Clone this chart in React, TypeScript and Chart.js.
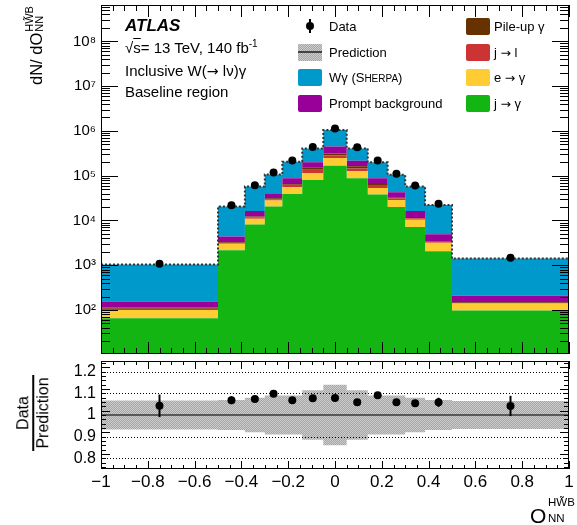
import React, { useEffect, useRef } from "react";
import { Chart, registerables } from "chart.js";

Chart.register(...registerables);

// ---------------- data ----------------
const binEdges = [-1, -0.5, -0.385, -0.3, -0.225, -0.14, -0.05, 0.05, 0.14, 0.225, 0.3, 0.385, 0.5, 1];
// stacked components (events per bin), bottom to top
const jToGamma = [65, 2150, 8150, 20500, 39200, 80200, 167000, 87500, 37800, 19900, 7130, 2050, 97];
const eToGamma = [35, 850, 2750, 7300, 16000, 34800, 80000, 37500, 15500, 8900, 3270, 1140, 42];
const jToL = [7, 170, 780, 2000, 7500, 21000, 37000, 20000, 8500, 2300, 800, 160, 5];
const pileUpGamma = [6, 130, 620, 1700, 6200, 18000, 31000, 17000, 7100, 2000, 700, 130, 4];
const promptBkg = [41, 1100, 3900, 7700, 18600, 45000, 135000, 53000, 18600, 9700, 4300, 1410, 61];
const wGamma = [880, 16100, 40800, 67800, 117500, 207000, 600000, 191000, 111500, 62200, 40800, 17400, 1200];
const dataCounts = [1078, 21900, 61200, 117500, 218900, 437300, 1133000, 430000, 217300, 111200, 60100, 23600, 1468];
const dataRelErr = [0.05, 0.017, 0.012, 0.01, 0.008, 0.006, 0.005, 0.006, 0.008, 0.01, 0.012, 0.02, 0.045];
const predRelUnc = [0.067, 0.07, 0.08, 0.09, 0.09, 0.115, 0.14, 0.115, 0.09, 0.09, 0.08, 0.07, 0.065];

const xTickValues = [-1, -0.8, -0.6, -0.4, -0.2, 0, 0.2, 0.4, 0.6, 0.8, 1];
const xTickLabels = ["\u22121", "\u22120.8", "\u22120.6", "\u22120.4", "\u22120.2", "0", "0.2", "0.4", "0.6", "0.8", "1"];
const logTickValues = [1e2, 1e3, 1e4, 1e5, 1e6, 1e7, 1e8];
const logTickLabels = ["10\u00B2", "10\u00B3", "10\u2074", "10\u2075", "10\u2076", "10\u2077", "10\u2078"];
const ratioTickValues = [0.8, 0.9, 1, 1.1, 1.2];
const ratioTickLabels = ["0.8", "0.9", "1", "1.1", "1.2"];

const layerColors = ["#13b513", "#ffcc33", "#cc3333", "#663300", "#990099", "#0099cc"];

const FONT = '"Liberation Sans", Arial, Helvetica, sans-serif';

// ---------------- helpers ----------------
const binCenters = binEdges.slice(0, -1).map((e, i) => (e + binEdges[i + 1]) / 2);
const stepData = (vals: number[]) =>
  binEdges.map((x, i) => ({ x, y: vals[Math.min(i, vals.length - 1)] }));

const layers = [jToGamma, eToGamma, jToL, pileUpGamma, promptBkg, wGamma];
const cumulative: number[][] = [];
layers.forEach((l, k) => {
  cumulative.push(l.map((v, i) => v + (k > 0 ? cumulative[k - 1][i] : 0)));
});
const prediction = cumulative[cumulative.length - 1];
const ratio = dataCounts.map((d, i) => d / prediction[i]);

type TickSpec = { v: number; len: number };

function framePlugin(id: string, xTicks: TickSpec[], yTicks: TickSpec[]) {
  return {
    id,
    afterDraw(chart: any) {
      const { ctx, chartArea: a } = chart;
      const xs = chart.scales.x;
      const ys = chart.scales.y;
      ctx.save();
      ctx.strokeStyle = "#000";
      ctx.lineWidth = 1;
      ctx.beginPath();
      for (const t of xTicks) {
        const px = Math.round(xs.getPixelForValue(t.v)) + 0.5;
        ctx.moveTo(px, a.bottom);
        ctx.lineTo(px, a.bottom - t.len);
        ctx.moveTo(px, a.top);
        ctx.lineTo(px, a.top + t.len);
      }
      for (const t of yTicks) {
        const py = Math.round(ys.getPixelForValue(t.v)) + 0.5;
        ctx.moveTo(a.left, py);
        ctx.lineTo(a.left + t.len, py);
        ctx.moveTo(a.right, py);
        ctx.lineTo(a.right - t.len, py);
      }
      ctx.stroke();
      ctx.strokeRect(a.left + 0.5, a.top + 0.5, a.right - a.left - 1, a.bottom - a.top - 1);
      ctx.restore();
    },
  };
}

function errorBarPlugin(id: string, dsIndex: number, lo: number[], hi: number[]) {
  return {
    id,
    afterDatasetsDraw(chart: any) {
      const meta = chart.getDatasetMeta(dsIndex);
      const ys = chart.scales.y;
      const ctx = chart.ctx;
      ctx.save();
      ctx.strokeStyle = "#000";
      ctx.lineWidth = 2;
      meta.data.forEach((pt: any, i: number) => {
        ctx.beginPath();
        ctx.moveTo(pt.x, ys.getPixelForValue(lo[i]));
        ctx.lineTo(pt.x, ys.getPixelForValue(hi[i]));
        ctx.stroke();
      });
      ctx.restore();
    },
  };
}

function makeXTicks(major: number, minor: number): TickSpec[] {
  const out: TickSpec[] = [];
  for (let i = 0; i <= 40; i++) {
    out.push({ v: -1 + i * 0.05, len: i % 4 === 0 ? major : minor });
  }
  return out;
}

function makeLogTicks(min: number, max: number): TickSpec[] {
  const out: TickSpec[] = [];
  for (let e = 0; e <= 9; e++) {
    for (let m = 1; m <= 9; m++) {
      const v = m * Math.pow(10, e);
      if (v >= min && v <= max) out.push({ v, len: m === 1 ? 17 : 9 });
    }
  }
  return out;
}

function makeRatioTicks(): TickSpec[] {
  const out: TickSpec[] = [];
  for (let i = 0; i <= 24; i++) {
    const v = 0.76 + i * 0.02;
    out.push({ v, len: (i + 2) % 5 === 0 ? 9 : 5 });
  }
  return out;
}

const noPad = (s: any) => {
  s.paddingTop = 0;
  s.paddingBottom = 0;
  s.paddingLeft = 0;
  s.paddingRight = 0;
};

const Arrow = () => (
  <span style={{ fontFamily: '"DejaVu Sans", sans-serif', fontSize: "0.95em" }}>→</span>
);

export default function App() {
  const mainRef = useRef<HTMLCanvasElement>(null);
  const ratioRef = useRef<HTMLCanvasElement>(null);

  useEffect(() => {
    const charts: Chart[] = [];
    const yMin = 10.4;
    const yMax = 6.5e8;

    if (mainRef.current) {
      const layerDatasets = cumulative.map((c, i) => ({
        data: stepData(c),
        stepped: "before" as const,
        borderWidth: 0,
        borderColor: "rgba(0,0,0,0)",
        pointRadius: 0,
        backgroundColor: layerColors[i],
        fill: i === 0 ? "start" : "-1",
        order: 20 + i,
      }));
      const totalDs = {
        data: stepData(prediction),
        stepped: "before" as const,
        borderWidth: 2,
        borderColor: "#333",
        borderDash: [2, 2],
        pointRadius: 0,
        fill: false,
        order: 2,
      };
      const dataDs = {
        data: binCenters.map((x, i) => ({ x, y: dataCounts[i] })),
        showLine: false,
        pointRadius: 4,
        pointBackgroundColor: "#000",
        pointBorderWidth: 0,
        order: 1,
      };
      const lo = dataCounts.map((d, i) => d * (1 - dataRelErr[i]));
      const hi = dataCounts.map((d, i) => d * (1 + dataRelErr[i]));
      charts.push(
        new Chart(mainRef.current, {
          type: "line",
          data: { datasets: [...layerDatasets, totalDs, dataDs] as any },
          options: {
            animation: false,
            responsive: false,
            maintainAspectRatio: false,
            events: [],
            layout: { padding: { top: 5, right: 8, bottom: 1, left: 0 } },
            plugins: { legend: { display: false }, tooltip: { enabled: false } },
            scales: {
              x: { type: "linear", min: -1, max: 1, display: false },
              y: {
                type: "logarithmic",
                min: yMin,
                max: yMax,
                afterFit: (s: any) => {
                  s.width = 101;
                  noPad(s);
                },
                afterBuildTicks: (s: any) => {
                  s.ticks = logTickValues.map((v) => ({ value: v }));
                },
                ticks: {
                  autoSkip: false,
                  padding: 5,
                  color: "#000",
                  font: { family: FONT, size: 15 },
                  callback: (v: any) => {
                    const i = logTickValues.indexOf(Number(v));
                    return i >= 0 ? logTickLabels[i] : "";
                  },
                },
                grid: { display: false, drawTicks: false },
                border: { display: false },
              },
            },
          } as any,
          plugins: [
            errorBarPlugin("errMain", layerDatasets.length + 1, lo, hi),
            framePlugin("frameMain", makeXTicks(12, 6), makeLogTicks(yMin, yMax)),
          ],
        })
      );
    }

    if (ratioRef.current) {
      const pc = document.createElement("canvas");
      pc.width = 2;
      pc.height = 2;
      const g = pc.getContext("2d")!;
      g.fillStyle = "#cdcdcd";
      g.fillRect(0, 0, 2, 2);
      g.fillStyle = "#a5a5a5";
      g.fillRect(0, 0, 1, 1);
      g.fillRect(1, 1, 1, 1);
      const pattern = ratioRef.current.getContext("2d")!.createPattern(pc, "repeat");

      const lo = ratio.map((r, i) => r * (1 - dataRelErr[i]));
      const hi = ratio.map((r, i) => r * (1 + dataRelErr[i]));

      const gridPlugin = {
        id: "ratioGrid",
        afterDatasetDraw(chart: any, args: any) {
          if (args.index !== 1) return;
          const { ctx, chartArea: a } = chart;
          const ys = chart.scales.y;
          ctx.save();
          ctx.strokeStyle = "#000";
          ctx.lineWidth = 1;
          ctx.setLineDash([1, 2]);
          for (const v of ratioTickValues) {
            if (v === 1) continue;
            const py = Math.round(ys.getPixelForValue(v)) + 0.5;
            ctx.beginPath();
            ctx.moveTo(a.left, py);
            ctx.lineTo(a.right, py);
            ctx.stroke();
          }
          ctx.restore();
        },
      };

      charts.push(
        new Chart(ratioRef.current, {
          type: "line",
          data: {
            datasets: [
              {
                data: stepData(predRelUnc.map((u) => 1 - u)),
                stepped: "before",
                borderWidth: 0,
                borderColor: "rgba(0,0,0,0)",
                pointRadius: 0,
                fill: false,
                order: 31,
              },
              {
                data: stepData(predRelUnc.map((u) => 1 + u)),
                stepped: "before",
                borderWidth: 0,
                borderColor: "rgba(0,0,0,0)",
                pointRadius: 0,
                backgroundColor: pattern,
                fill: "-1",
                order: 30,
              },
              {
                data: [
                  { x: -1, y: 1 },
                  { x: 1, y: 1 },
                ],
                borderWidth: 1.5,
                borderColor: "#3a3a3a",
                pointRadius: 0,
                fill: false,
                order: 2,
              },
              {
                data: binCenters.map((x, i) => ({ x, y: ratio[i] })),
                showLine: false,
                pointRadius: 4,
                pointBackgroundColor: "#000",
                pointBorderWidth: 0,
                order: 1,
              },
            ] as any,
          },
          options: {
            animation: false,
            responsive: false,
            maintainAspectRatio: false,
            events: [],
            layout: { padding: { top: 1, right: 8, bottom: 0, left: 0 } },
            plugins: { legend: { display: false }, tooltip: { enabled: false } },
            scales: {
              x: {
                type: "linear",
                min: -1,
                max: 1,
                afterFit: (s: any) => {
                  s.height = 56;
                  noPad(s);
                },
                afterBuildTicks: (s: any) => {
                  s.ticks = xTickValues.map((v) => ({ value: v }));
                },
                ticks: {
                  autoSkip: false,
                  maxRotation: 0,
                  minRotation: 0,
                  padding: 3,
                  color: "#000",
                  font: { family: FONT, size: 17 },
                  callback: (v: any, i: number) => xTickLabels[i] ?? "",
                },
                grid: { display: false, drawTicks: false },
                border: { display: false },
              },
              y: {
                type: "linear",
                min: 0.75,
                max: 1.25,
                afterFit: (s: any) => {
                  s.width = 101;
                  noPad(s);
                },
                afterBuildTicks: (s: any) => {
                  s.ticks = ratioTickValues.map((v) => ({ value: v }));
                },
                ticks: {
                  autoSkip: false,
                  padding: 5,
                  color: "#000",
                  font: { family: FONT, size: 16 },
                  callback: (v: any, i: number) => ratioTickLabels[i] ?? "",
                },
                grid: { display: false, drawTicks: false },
                border: { display: false },
              },
            },
          } as any,
          plugins: [
            gridPlugin,
            errorBarPlugin("errRatio", 3, lo, hi),
            framePlugin("frameRatio", makeXTicks(8, 4), makeRatioTicks()),
          ],
        })
      );
    }

    return () => charts.forEach((c) => c.destroy());
  }, []);

  const abs = (style: React.CSSProperties): React.CSSProperties => ({
    position: "absolute",
    whiteSpace: "nowrap",
    color: "#000",
    ...style,
  });

  const swatch = (top: number, left: number, color: string) => (
    <div
      style={abs({
        left,
        top,
        width: 24,
        height: 17,
        background: color,
        borderRadius: 2,
      })}
    />
  );

  const legendText = (top: number, left: number, content: React.ReactNode) => (
    <div style={abs({ left, top: top - 6.5, fontSize: 13, lineHeight: "13px" })}>{content}</div>
  );

  const rows = [26, 52, 77, 103];

  return (
    <div
      style={{
        position: "fixed",
        left: 0,
        top: 0,
        width: 577,
        height: 525,
        background: "#fff",
        overflow: "hidden",
        fontFamily: FONT,
      }}
    >
      <canvas ref={mainRef} width={577} height={358} style={{ position: "absolute", left: 0, top: 0 }} />
      <canvas ref={ratioRef} width={577} height={168} style={{ position: "absolute", left: 0, top: 357 }} />

      {/* ATLAS label block */}
      <div style={abs({ left: 125, top: 16.6, fontSize: 17, lineHeight: "17px", fontWeight: "bold", fontStyle: "italic" })}>
        ATLAS
      </div>
      <div style={abs({ left: 125, top: 40.3, fontSize: 15, lineHeight: "15px" })}>
        √<span style={{ textDecoration: "overline" }}>s</span>= 13 TeV, 140 fb
        <span style={{ fontSize: 10, position: "relative", top: -6 }}>-1</span>
      </div>
      <div style={abs({ left: 125, top: 63.3, fontSize: 15, lineHeight: "15px" })}>
        Inclusive W(<Arrow /> lν)γ
      </div>
      <div style={abs({ left: 125, top: 84.3, fontSize: 15, lineHeight: "15px" })}>Baseline region</div>

      {/* legend left column */}
      <div style={abs({ left: 309, top: rows[0] - 7, width: 2, height: 14, background: "#000" })} />
      <div style={abs({ left: 306, top: rows[0] - 4, width: 8, height: 8, borderRadius: 4, background: "#000" })} />
      {legendText(rows[0], 329, "Data")}
      <div
        style={abs({
          left: 298,
          top: rows[1] - 8.5,
          width: 24,
          height: 17,
          background: "repeating-conic-gradient(#a5a5a5 0% 25%, #cdcdcd 0% 50%) 0 0 / 2px 2px",
        })}
      />
      <div style={abs({ left: 298, top: rows[1] - 1, width: 24, height: 2, background: "#444" })} />
      {legendText(rows[1], 329, "Prediction")}
      {swatch(rows[2] - 8.5, 298, layerColors[5])}
      {legendText(
        rows[2],
        329,
        <span>
          Wγ (S<span style={{ fontSize: 10 }}>HERPA</span>)
        </span>
      )}
      {swatch(rows[3] - 8.5, 298, layerColors[4])}
      {legendText(rows[3], 329, "Prompt background")}

      {/* legend right column */}
      {swatch(rows[0] - 8.5, 466, layerColors[3])}
      {legendText(rows[0], 494, "Pile-up γ")}
      {swatch(rows[1] - 8.5, 466, layerColors[2])}
      {legendText(rows[1], 494, <span>j <Arrow /> l</span>)}
      {swatch(rows[2] - 8.5, 466, layerColors[1])}
      {legendText(rows[2], 494, <span>e <Arrow /> γ</span>)}
      {swatch(rows[3] - 8.5, 466, layerColors[0])}
      {legendText(rows[3], 494, <span>j <Arrow /> γ</span>)}

      {/* main y-axis title */}
      <div
        style={abs({
          left: 27.5,
          top: 85,
          transform: "rotate(-90deg)",
          transformOrigin: "0 0",
          display: "flex",
          alignItems: "flex-start",
        })}
      >
        <span style={{ fontSize: 16.5, lineHeight: "16px" }}>dN/ dO</span>
        <span style={{ position: "relative", display: "inline-block", width: 26, height: 16 }}>
          <span style={{ position: "absolute", left: 1, top: -4, fontSize: 11, lineHeight: "11px" }}>HW̃B</span>
          <span style={{ position: "absolute", left: 1, top: 6, fontSize: 11, lineHeight: "11px" }}>NN</span>
        </span>
      </div>

      {/* ratio y-axis title */}
      <div
        style={abs({
          left: 33,
          top: 413,
          transform: "translate(-50%, -50%) rotate(-90deg)",
          display: "flex",
          flexDirection: "column",
          alignItems: "center",
          fontSize: 16,
          lineHeight: "16px",
        })}
      >
        <span>Data</span>
        <span style={{ width: 76, height: 1.5, background: "#000", margin: "1px 0" }} />
        <span>Prediction</span>
      </div>

      {/* x-axis title */}
      <div style={abs({ left: 530, top: 505, fontSize: 21, lineHeight: "21px" })}>O</div>
      <div style={abs({ left: 548, top: 497, fontSize: 11.5, lineHeight: "11.5px" })}>HW̃B</div>
      <div style={abs({ left: 548, top: 513, fontSize: 11.5, lineHeight: "11.5px" })}>NN</div>
    </div>
  );
}
